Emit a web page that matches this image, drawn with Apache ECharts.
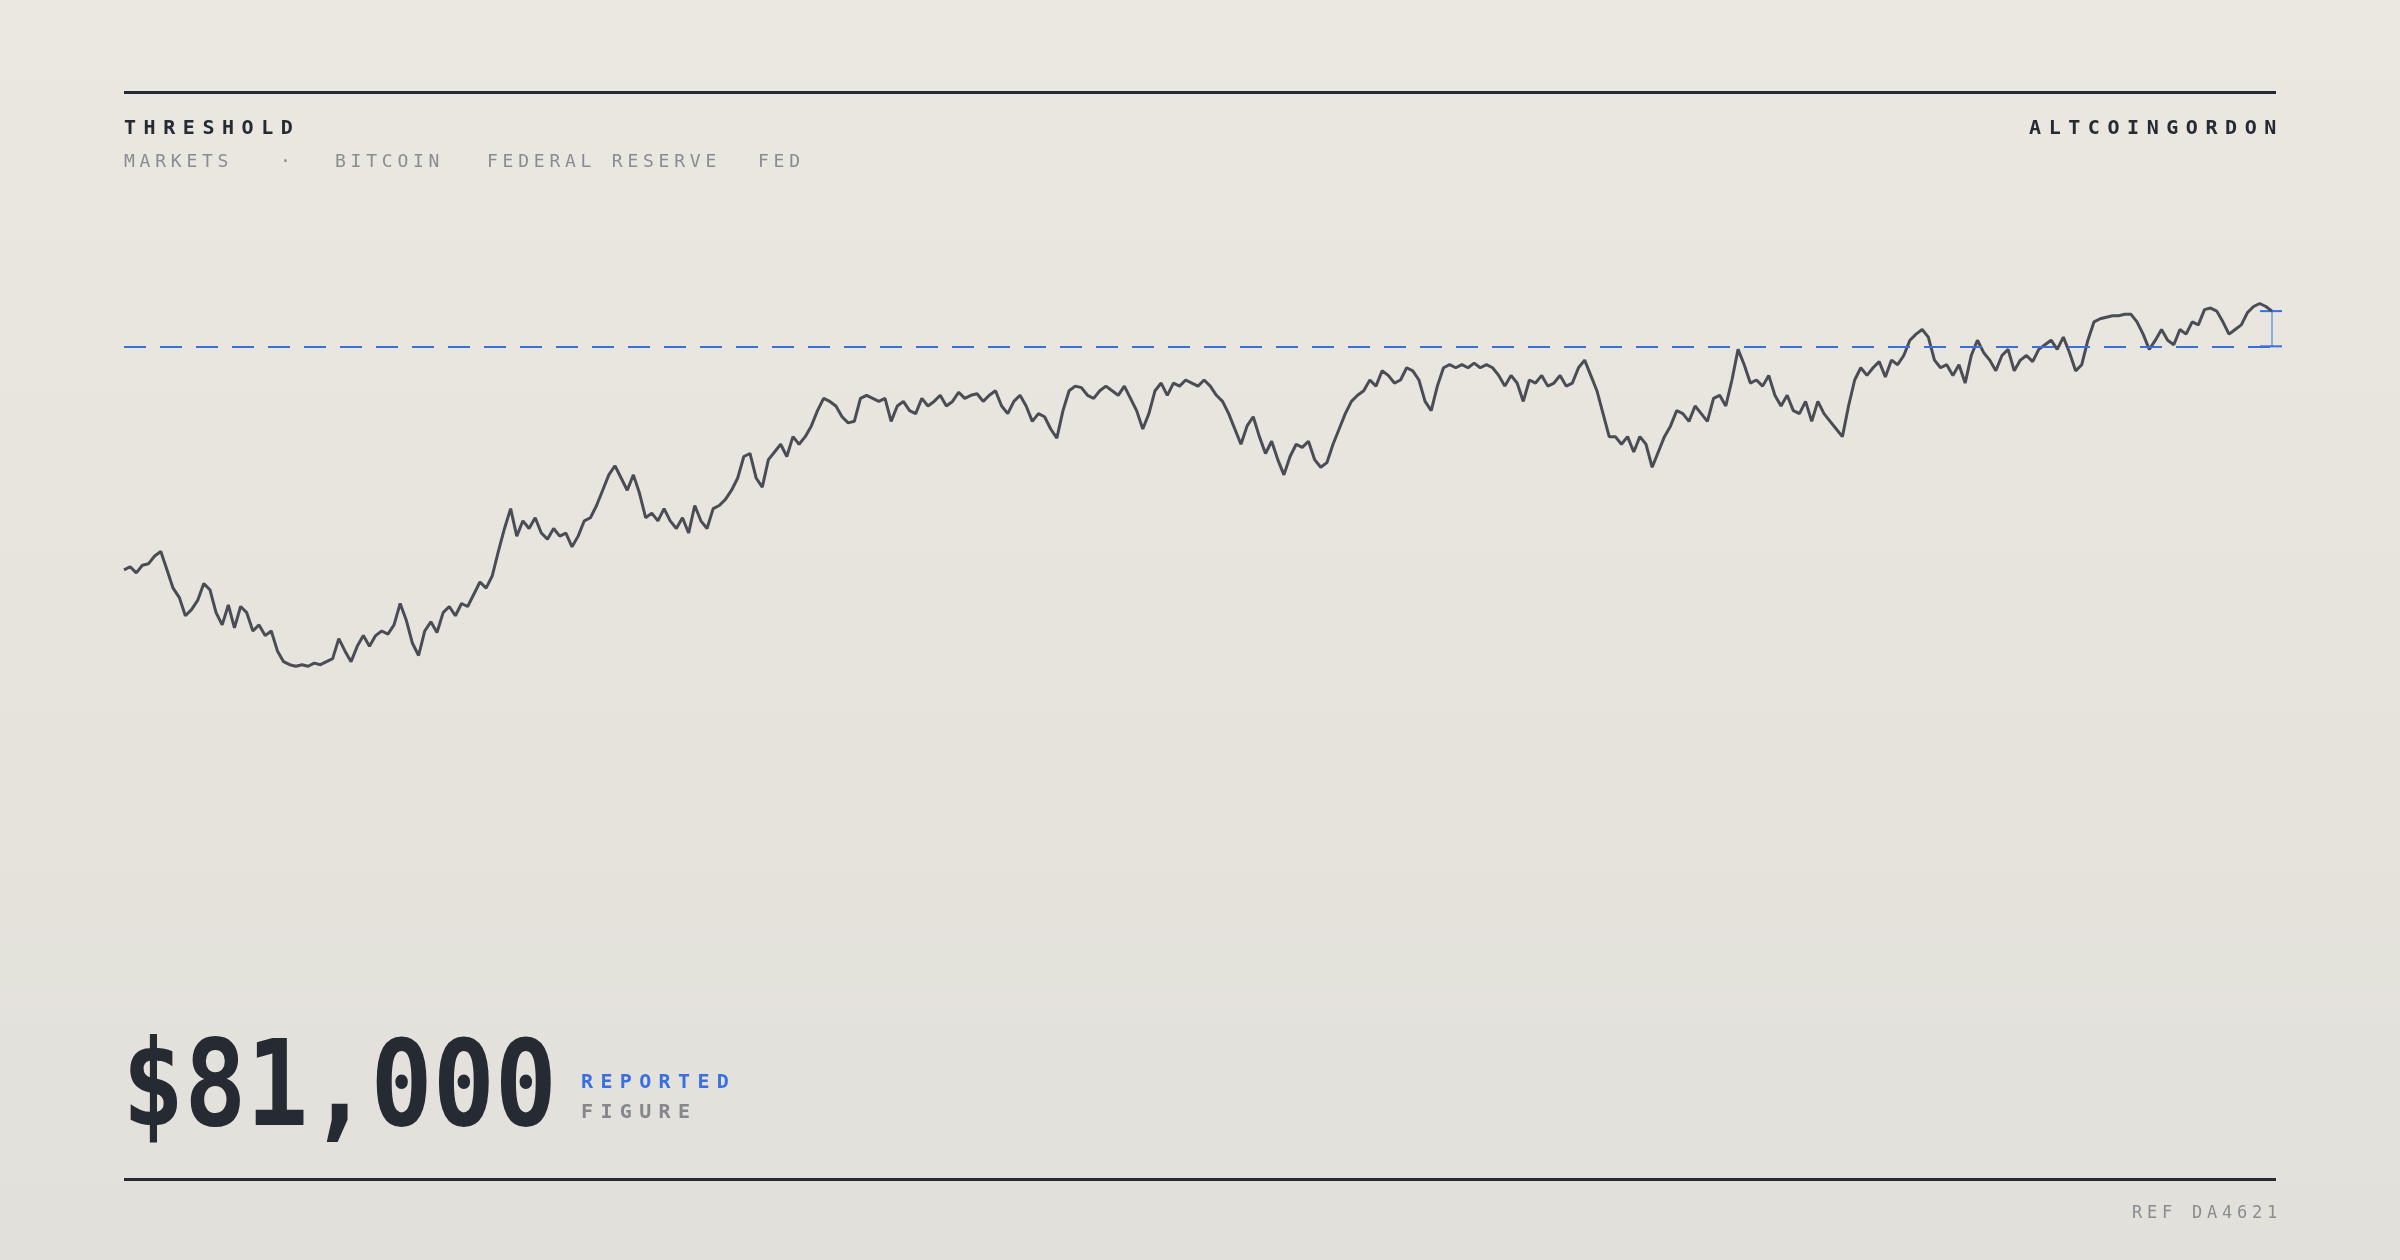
<!DOCTYPE html>
<html><head><meta charset="utf-8">
<script src="https://cdn.jsdelivr.net/npm/echarts@6/dist/echarts.min.js"></script>
<style>html,body{margin:0;padding:0}#c{width:2400px;height:1260px}</style>
</head><body><div id="c"></div>
<script>
// price in $k
const prices = [64.1,64.3,63.9,64.4,64.5,65.0,65.3,64.1,62.9,62.3,61.1,61.5,62.1,63.2,62.8,61.3,60.5,61.8,60.3,61.7,61.3,60.1,60.5,59.8,60.1,58.8,58.1,57.9,57.8,57.9,57.8,58.0,57.9,58.1,58.3,59.6,58.8,58.1,59.1,59.8,59.1,59.8,60.1,59.9,60.5,61.9,60.8,59.3,58.5,60.1,60.7,60.0,61.3,61.7,61.1,61.9,61.7,62.5,63.3,62.9,63.7,65.3,66.8,68.1,66.3,67.3,66.8,67.5,66.5,66.1,66.8,66.3,66.5,65.6,66.3,67.3,67.5,68.3,69.3,70.3,70.9,70.1,69.3,70.3,69.1,67.5,67.8,67.3,68.1,67.3,66.8,67.5,66.5,68.3,67.3,66.8,68.1,68.3,68.7,69.3,70.1,71.5,71.7,70.1,69.5,71.3,71.8,72.3,71.5,72.8,72.3,72.8,73.5,74.5,75.3,75.1,74.8,74.1,73.7,73.8,75.3,75.5,75.3,75.1,75.3,73.8,74.8,75.1,74.5,74.3,75.3,74.8,75.1,75.5,74.8,75.1,75.7,75.3,75.5,75.6,75.1,75.5,75.8,74.8,74.3,75.1,75.5,74.8,73.8,74.3,74.1,73.3,72.7,74.5,75.8,76.1,76.0,75.5,75.3,75.8,76.1,75.8,75.5,76.1,75.3,74.5,73.3,74.3,75.8,76.3,75.5,76.3,76.1,76.5,76.3,76.1,76.5,76.1,75.5,75.1,74.3,73.3,72.3,73.5,74.1,72.8,71.7,72.5,71.3,70.3,71.5,72.3,72.1,72.5,71.3,70.8,71.1,72.3,73.3,74.3,75.1,75.5,75.8,76.5,76.1,77.1,76.8,76.3,76.5,77.3,77.1,76.5,75.1,74.5,76.1,77.3,77.5,77.3,77.5,77.3,77.6,77.3,77.5,77.3,76.8,76.1,76.8,76.3,75.1,76.5,76.3,76.8,76.1,76.3,76.8,76.1,76.3,77.3,77.8,76.8,75.8,74.3,72.8,72.8,72.3,72.8,71.8,72.8,72.3,70.8,71.8,72.8,73.5,74.5,74.3,73.8,74.8,74.3,73.8,75.3,75.5,74.8,76.5,78.5,77.5,76.3,76.5,76.1,76.8,75.5,74.8,75.5,74.5,74.3,75.1,73.8,75.1,74.3,73.8,73.3,72.8,74.8,76.5,77.3,76.8,77.3,77.7,76.7,77.8,77.5,78.1,79.1,79.5,79.8,79.3,77.8,77.3,77.5,76.8,77.5,76.3,78.1,79.1,78.3,77.8,77.1,78.1,78.5,77.1,77.8,78.1,77.7,78.5,78.8,79.1,78.5,79.3,78.3,77.1,77.5,79.1,80.3,80.5,80.6,80.7,80.7,80.8,80.8,80.3,79.5,78.5,79.1,79.8,79.1,78.8,79.8,79.5,80.3,80.1,81.1,81.2,81.0,80.3,79.5,79.8,80.1,80.9,81.3,81.5,81.3,81.0];
const threshold = 78.7;
const headline = '$81,000';
const tags = ['MARKETS', '·', 'BITCOIN', 'FEDERAL RESERVE', 'FED'];
const tagX = [124, 280, 335, 487, 758];

const ink = '#252a33', mono = '"DejaVu Sans Mono", monospace';
function spaced(str, x, y, pitch, style, align) {
  const out = [];
  const start = align === 'right' ? x - pitch * (str.length - 1) - pitch * 0.6 : x;
  for (let i = 0; i < str.length; i++) {
    out.push({ type: 'text', left: start + i * pitch, top: y,
      style: Object.assign({ text: str[i], fontFamily: mono }, style) });
  }
  return out;
}
let g = [
  { type: 'rect', left: 124, top: 91, shape: { width: 2152, height: 3 }, style: { fill: ink } },
  { type: 'rect', left: 124, top: 1178, shape: { width: 2152, height: 3 }, style: { fill: ink } },
  { type: 'text', x: 122, y: 1034, scaleX: 0.86,
    style: { text: headline, fontFamily: mono, fontWeight: 'bold', fontSize: 120, fill: ink } }
];
g = g.concat(spaced('THRESHOLD', 124, 119, 19.6, { fontSize: 20, fontWeight: 'bold', fill: ink }));
g = g.concat(spaced('ALTCOINGORDON', 2276, 119, 19.6, { fontSize: 20, fontWeight: 'bold', fill: ink }, 'right'));
tags.forEach((t, i) => { g = g.concat(spaced(t, tagX[i], 153, 15.6, { fontSize: 18, fill: '#8a8c91' })); });
g = g.concat(spaced('REPORTED', 581, 1073, 19.4, { fontSize: 20, fontWeight: 'bold', fill: '#3a6fe0' }));
g = g.concat(spaced('FIGURE', 581, 1103, 19.4, { fontSize: 20, fontWeight: 'bold', fill: '#85878d' }));
g = g.concat(spaced('REF DA4621', 2276, 1205, 15, { fontSize: 17, fill: '#8a8c91' }, 'right'));

const chart = echarts.init(document.getElementById('c'));
chart.setOption({
  backgroundColor: new echarts.graphic.LinearGradient(0, 0, 0, 1, [
    { offset: 0, color: '#ebe8e1' }, { offset: 1, color: '#e2e0da' }]),
  animation: false,
  grid: { left: 124, right: 128, top: 230, bottom: 280 },
  xAxis: { type: 'category', boundaryGap: false, data: prices.map((_, i) => i), show: false },
  yAxis: { type: 'value', min: 37.3, max: 86.3, show: false },
  graphic: g,
  series: [
    { type: 'line', data: prices, symbol: 'none', lineStyle: { color: '#4a4d55', width: 3 },
      markLine: { silent: true, symbol: 'none', label: { show: false },
        lineStyle: { color: '#3a6fe0', type: [22, 14], width: 2 },
        data: [{ yAxis: threshold }] } },
    { type: 'custom', data: [[prices.length - 1, threshold, prices[prices.length - 1]]],
      renderItem: (params, api) => {
        const a = api.coord([api.value(0), api.value(1)]);
        const b = api.coord([api.value(0), api.value(2)]);
        const s = { stroke: '#3a6fe0', lineWidth: 2 };
        return { type: 'group', children: [
          { type: 'line', shape: { x1: a[0], y1: a[1], x2: b[0], y2: b[1] }, style: { stroke: '#6f96e8', lineWidth: 1.5 } },
          { type: 'line', shape: { x1: a[0] - 12, y1: a[1], x2: a[0] + 10, y2: a[1] }, style: s },
          { type: 'line', shape: { x1: b[0] - 12, y1: b[1], x2: b[0] + 10, y2: b[1] }, style: s }
        ] };
      } }
  ]
});
</script></body></html>
